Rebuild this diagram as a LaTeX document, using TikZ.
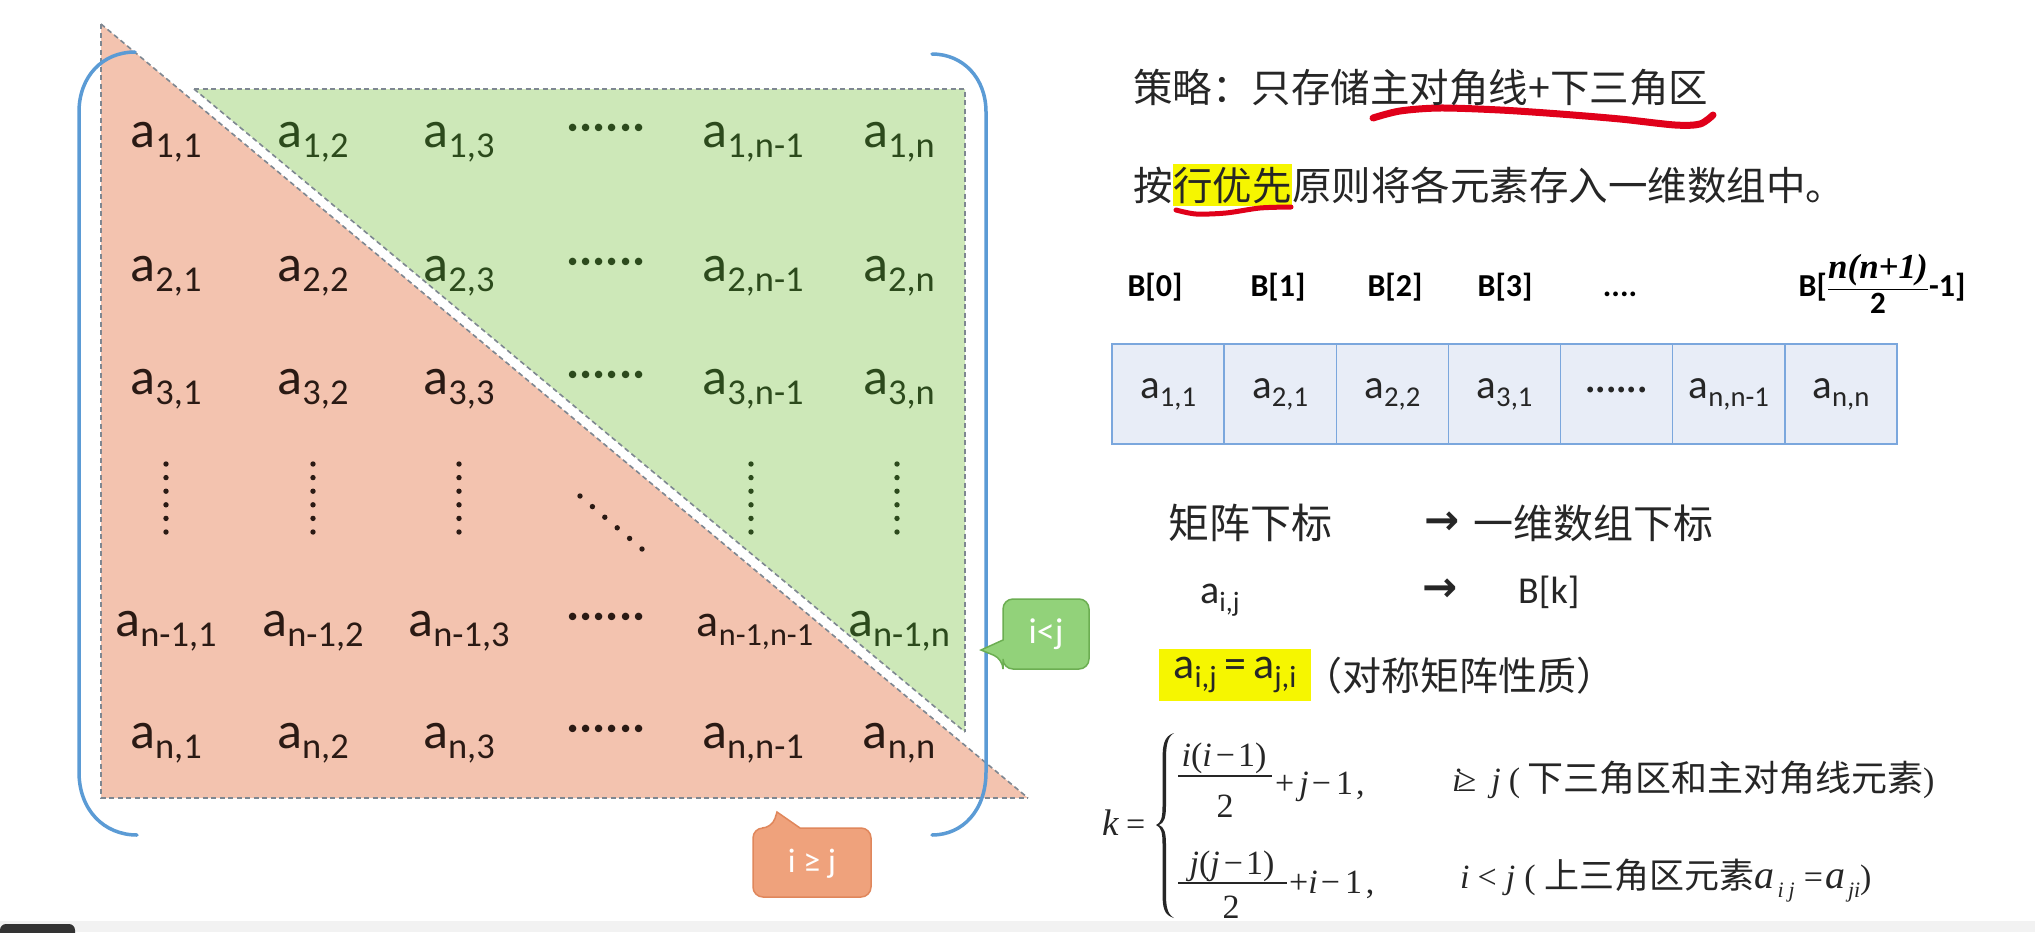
\documentclass[tikz,border=0pt]{standalone}
\usepackage{amsmath}
\usepackage{fontspec}
\setmainfont{Carlito}
\newfontfamily\cjk{Noto Sans CJK SC}
\newfontfamily\tnr{Liberation Serif}
\newfontfamily\dvs{DejaVu Sans}
\definecolor{redfill}{HTML}{F3C3AF}
\definecolor{greenfill}{HTML}{CDE8B8}
\definecolor{dashc}{HTML}{7E8791}
\definecolor{brk}{HTML}{5B9BD5}
\definecolor{redtxt}{HTML}{2A1A14}
\definecolor{grntxt}{HTML}{2C4A1C}
\definecolor{arrfill}{HTML}{E8EDF7}
\definecolor{arrline}{HTML}{7BA7DD}
\definecolor{calg}{HTML}{92D27A}
\definecolor{calgd}{HTML}{6CAE52}
\definecolor{calo}{HTML}{EFA27C}
\definecolor{calod}{HTML}{E0875C}
\definecolor{ulred}{HTML}{E0001A}
\definecolor{hly}{HTML}{F6F600}
\definecolor{txt}{HTML}{262626}
\newcommand\mx[1]{a\raisebox{-0.2em}{\scalebox{0.7}{#1}}}
\newcommand\fsub[1]{\raisebox{-9pt}{\fontsize{22}{22}\selectfont\textit{#1}}}
\newcommand\rowdots{\raisebox{5pt}{······}}
\begin{document}
\begin{tikzpicture}[x=1pt,y=-1pt,
  dashline/.style={draw=dashc,line width=1.6pt,dash pattern=on 5pt off 3.5pt},
  mr/.style={anchor=base,inner sep=0pt,font=\fontsize{52}{60}\selectfont,text=redtxt},
  mg/.style={mr,text=grntxt},
  bracket/.style={draw=brk,line width=3.5pt,line cap=round},
  cell/.style={draw=arrline,fill=arrfill,line width=1.5pt,minimum width=112.14pt,minimum height=100pt,inner sep=0pt,outer sep=0pt,font=\fontsize{41}{48}\selectfont,text=black!85},
  blab/.style={anchor=base,inner sep=0pt,font=\fontsize{32}{40}\selectfont\bfseries,text=black},
  cjkt/.style={anchor=base west,inner sep=0pt,font=\fontsize{39.5}{46}\selectfont\cjk,text=txt},
  ulline/.style={draw=ulred,line width=7pt,line cap=round,line join=round},
  fm/.style={inner sep=0pt,font=\fontsize{34}{40}\selectfont\tnr,text=txt},
  calltxt/.style={inner sep=0pt,text=white,font=\fontsize{36}{40}\selectfont},
  arrowt/.style={inner sep=0pt,font=\fontsize{42}{46}\selectfont\dvs\bfseries,text=txt}
]
\useasboundingbox (0,0) rectangle (2035,932);
\fill[white] (0,0) rectangle (2035,932);
% bottom strip
\fill[black!5] (0,921) rectangle (2035,932);
\fill[black!80,rounded corners=6pt] (0,924) rectangle (75,945);

% triangles
\fill[redfill] (101,24) -- (1028,798) -- (101,798) -- cycle;
\fill[greenfill] (194,89) -- (965,89) -- (965,732) -- cycle;
\draw[dashline] (101,24) -- (101,798) -- (1028,798);
\draw[dashline] (101,24) -- (1028,798);
\draw[dashline] (194,89) -- (965,89) -- (965,732);
\draw[dashline] (194,89) -- (965,732);

% matrix entries
\node[mr] (m11) at (166,147) {\mx{1,1}};
\node[mg] (m12) at (313,147) {\mx{1,2}};
\node[mg] (m13) at (459,147) {\mx{1,3}};
\node[mg] (m14) at (606,147) {\rowdots};
\node[mg] (m15) at (753,147) {\mx{1,n-1}};
\node[mg] (m16) at (899,147) {\mx{1,n}};

\node[mr] (m21) at (166,281) {\mx{2,1}};
\node[mr] (m22) at (313,281) {\mx{2,2}};
\node[mg] (m23) at (459,281) {\mx{2,3}};
\node[mg] (m24) at (606,281) {\rowdots};
\node[mg] (m25) at (753,281) {\mx{2,n-1}};
\node[mg] (m26) at (899,281) {\mx{2,n}};

\node[mr] (m31) at (166,394) {\mx{3,1}};
\node[mr] (m32) at (313,394) {\mx{3,2}};
\node[mr] (m33) at (459,394) {\mx{3,3}};
\node[mg] (m34) at (606,394) {\rowdots};
\node[mg] (m35) at (753,394) {\mx{3,n-1}};
\node[mg] (m36) at (899,394) {\mx{3,n}};

\node[mr] (m51) at (166,636) {\mx{n-1,1}};
\node[mr] (m52) at (313,636) {\mx{n-1,2}};
\node[mr] (m53) at (459,636) {\mx{n-1,3}};
\node[mr] (m54) at (606,636) {\rowdots};
\node[mr,font=\fontsize{46}{52}\selectfont] (m55) at (755,636) {\mx{n-1,n-1}};
\node[mg] (m56) at (899,636) {\mx{n-1,n}};

\node[mr] (m61) at (166,748) {\mx{n,1}};
\node[mr] (m62) at (313,748) {\mx{n,2}};
\node[mr] (m63) at (459,748) {\mx{n,3}};
\node[mr] (m64) at (606,748) {\rowdots};
\node[mr] (m65) at (753,748) {\mx{n,n-1}};
\node[mr] (m66) at (899,748) {\mx{n,n}};

% vertical and diagonal dots
\foreach \c in {166,313,459}
  \foreach \k in {0,...,5}
    \fill[redtxt] (\c,464+\k*13.6) circle[radius=2.7pt];
\foreach \c in {751,897}
  \foreach \k in {0,...,5}
    \fill[grntxt] (\c,464+\k*13.6) circle[radius=2.7pt];
\foreach \k in {0,...,5}
  \fill[redtxt] (580+\k*12.4,496+\k*10.6) circle[radius=2.7pt];

% brackets
\draw[bracket] (135,52) .. controls (103,52) and (79,76) .. (79,112) -- (79,772) .. controls (79,810) and (104,835) .. (137,835);
\draw[bracket] (932,54) .. controls (963,54) and (986,78) .. (986,112) -- (986,772) .. controls (986,810) and (963,835) .. (932,835);

% callouts
\path[draw=calgd,fill=calg,line width=1.5pt] (1003,640) [rounded corners=10pt] -- (1003,599) -- (1089,599) -- (1089,669) -- (1003,669) -- (1003,659) [sharp corners] -- (981,650) -- cycle;
\node[calltxt] (ilj) at (1046,634) {i<j};
\path[draw=calod,fill=calo,line width=1.5pt] (800,828) [rounded corners=10pt] -- (871,828) -- (871,897) -- (753,897) -- (753,828) -- (772,828) [sharp corners] -- (777,812) -- cycle;
\node[calltxt,font=\fontsize{34}{40}\selectfont] (igj) at (812,864) {i ≥ j};

% right side text
\draw[ulline] plot[smooth] coordinates {(1373,118) (1400,111) (1440,108) (1500,110) (1560,114) (1620,119) (1675,125) (1700,124) (1713,115)};
\node[cjkt] (l1) at (1133,102) {策略：只存储主对角线+下三角区};
\node[cjkt] (l2a) at (1133,200) {按};
\node[cjkt,fill=hly,inner ysep=3pt] (l2b) at (l2a.base east) {行优先};
\node[cjkt] (l2c) at (l2b.base east) {原则将各元素存入一维数组中。};
\draw[ulline,line width=5pt] plot[smooth] coordinates {(1176,210) (1196,214) (1226,213) (1260,208) (1291,207)};

% B labels
\node[blab] (b0) at (1155,296) {B[0]};
\node[blab] (b1) at (1278,296) {B[1]};
\node[blab] (b2) at (1395,296) {B[2]};
\node[blab] (b3) at (1505,296) {B[3]};
\node[blab] (b4) at (1620,296) {....};
\node[blab] (b5) at (1882,296) {B[$\dfrac{\mbox{\fontsize{35}{35}\selectfont\tnr\bfseries\itshape n(n+1)}}{\mbox{\fontsize{31}{31}\selectfont\bfseries 2}}$-1]};

% array
\node[cell] (c1) at (1168.07,394) {\mx{1,1}};
\node[cell] (c2) at (1280.21,394) {\mx{2,1}};
\node[cell] (c3) at (1392.35,394) {\mx{2,2}};
\node[cell] (c4) at (1504.49,394) {\mx{3,1}};
\node[cell] (c5) at (1616.63,394) {······};
\node[cell] (c6) at (1728.77,394) {\mx{n,n-1}};
\node[cell] (c7) at (1840.91,394) {\mx{n,n}};

% index mapping
\node[cjkt,font=\fontsize{41}{46}\selectfont\cjk] (t1) at (1168,538) {矩阵下标};
\node[arrowt] (ar1) at (1442,523) {→};
\node[cjkt,font=\fontsize{40}{46}\selectfont\cjk] (t2) at (1473,538) {一维数组下标};
\node[anchor=base west,inner sep=0pt,font=\fontsize{40}{46}\selectfont,text=txt] (t3) at (1200,603) {\mx{i,j}};
\node[arrowt] (ar2) at (1440,590) {→};
\node[anchor=base west,inner sep=0pt,font=\fontsize{38}{44}\selectfont,text=txt] (t4) at (1518,603) {B[k]};
\node[fill=hly,minimum width=152pt,minimum height=52pt,inner sep=0pt,font=\fontsize{44}{48}\selectfont,text=txt] (t5) at (1235,675) {\mx{i,j}\,=\,\mx{j,i}};
\node[cjkt,font=\fontsize{39}{44}\selectfont\cjk] (t6) at (1303,690) {（对称矩阵性质）};

% formula
\node[fm,anchor=base west] (kk) at (1102,835) {{\fontsize{37}{40}\selectfont\textit{k}}\hspace{7pt}=};
\fill[txt] (1174,733) .. controls (1164,736) and (1162.5,745) .. (1162.5,760) -- (1162.5,806) .. controls (1162.5,818) and (1161,823) .. (1156,825) .. controls (1161,827) and (1162.5,832) .. (1162.5,844) -- (1162.5,893) .. controls (1162.5,908) and (1164,915) .. (1174,918) .. controls (1167,914) and (1166,906) .. (1166,893) -- (1166,844) .. controls (1166,832) and (1164,827) .. (1159,825) .. controls (1164,823) and (1166,818) .. (1166,806) -- (1166,760) .. controls (1166,747) and (1167,737) .. (1174,733) -- cycle;
\node[fm,anchor=base] (n1) at (1224,766) {\textit{i}(\textit{i}\hspace{4pt}−\hspace{3pt}1)};
\draw[draw=txt,line width=2pt] (1178,776) -- (1272,776);
\node[fm,anchor=base] (d1) at (1225,817) {2};
\node[fm,anchor=base west] (r1) at (1275,794) {+\hspace{5pt}\textit{j}\hspace{3pt}−\hspace{5pt}1\hspace{3pt},};
\node[fm,anchor=base west] (s1) at (1452,791) {\textit{i}\kern-4pt≥\hspace{15pt}\textit{j}\hspace{8pt}(\hspace{7pt}{\fontsize{36}{44}\selectfont\cjk 下三角区和主对角线元素})};
\node[fm,anchor=base] (n2) at (1232,874) {\textit{j}(\textit{j}\hspace{4pt}−\hspace{3pt}1)};
\draw[draw=txt,line width=2pt] (1178,883) -- (1287,883);
\node[fm,anchor=base] (d2) at (1231,918) {2};
\node[fm,anchor=base west] (r2) at (1289,893) {+\textit{i}\hspace{3pt}−\hspace{5pt}1\hspace{4pt},};
\node[fm,anchor=base west] (s2) at (1460,888) {\textit{i}\hspace{8pt}<\hspace{9pt}\textit{j}\hspace{9pt}(\hspace{9pt}{\fontsize{35}{44}\selectfont\cjk 上三角区元素}{\fontsize{40}{44}\selectfont\textit{a}}\hspace{3pt}\fsub{i\hspace{5pt}j}\hspace{9pt}=\hspace{2pt}{\fontsize{40}{44}\selectfont\textit{a}}\hspace{3pt}\fsub{ji})};
\end{tikzpicture}
\end{document}
